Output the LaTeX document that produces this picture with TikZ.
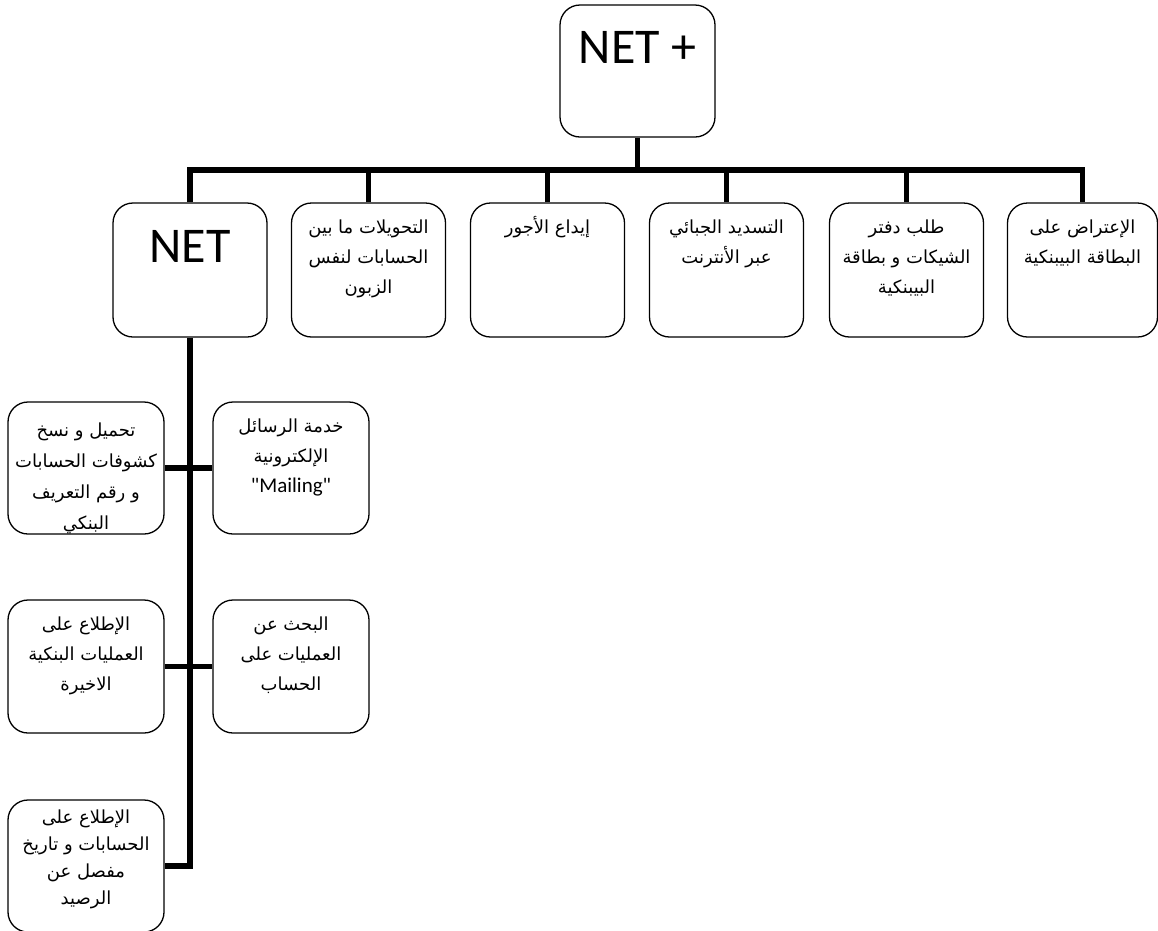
\documentclass[tikz,border=0pt]{standalone}
\usepackage{fontspec}
\newfontfamily\arabicfont[Script=Arabic]{DejaVu Sans}
\newfontfamily\latinfont{Carlito}
\TeXXeTstate=1
% top-aligned Arabic text block: height, line skip, top gap, lines
\newcommand\artextx[4]{\parbox[c][#1][t]{150pt}{\centering\arabicfont\fontsize{18}{#2}\selectfont\vspace*{#3}#4}}
\newcommand\artext[2]{\artextx{#1}{30}{9pt}{#2}}
% top-aligned large Latin title
\newcommand\bigtitle[1]{\parbox[c][132pt][t]{150pt}{\centering\latinfont\fontsize{50}{60}\selectfont\vspace*{26pt}#1}}
\begin{document}
\begin{tikzpicture}[x=1pt,y=-1pt,
  boxnode/.style={draw, line width=1.3pt, rounded corners=20pt, inner sep=0pt, fill=white},
  conn/.style={line width=5.5pt}]
\useasboundingbox (0,0) rectangle (1158,930);
\clip (0,0) rectangle (1158,930);

% top level
\node[boxnode, minimum width=155pt, minimum height=132pt] (top) at (637.5,71) {\bigtitle{NET +}};
\coordinate (hub) at (637.5,170);

% second level row
\node[boxnode, minimum width=154pt, minimum height=134pt] (net) at (190,270) {\bigtitle{NET}};
\node[boxnode, minimum width=154pt, minimum height=134pt] (b2) at (368.5,270)
  {\artext{134pt}{\strut\beginR التحويلات ما بين\endR\\\strut\beginR الحسابات لنفس\endR\\\strut\beginR الزبون\endR}};
\node[boxnode, minimum width=154pt, minimum height=134pt] (b3) at (547.5,270)
  {\artext{134pt}{\strut\beginR إيداع الأجور\endR}};
\node[boxnode, minimum width=154pt, minimum height=134pt] (b4) at (726.5,270)
  {\artext{134pt}{\strut\beginR التسديد الجبائي\endR\\\strut\beginR عبر الأنترنت\endR}};
\node[boxnode, minimum width=154pt, minimum height=134pt] (b5) at (906.5,270)
  {\artext{134pt}{\strut\beginR طلب دفتر\endR\\\strut\beginR الشيكات و بطاقة\endR\\\strut\beginR البيبنكية\endR}};
\node[boxnode, minimum width=149pt, minimum height=134pt] (b6) at (1082.5,270)
  {\artext{134pt}{\strut\beginR الإعتراض على\endR\\\strut\beginR البطاقة البيبنكية\endR}};

% services under NET
\node[boxnode, minimum width=156pt, minimum height=132pt] (l1) at (86,468)
  [path picture={\node[anchor=north, inner sep=0pt] (l1text) at (path picture bounding box.north)
     {\artextx{132pt}{31}{12pt}{\strut\beginR تحميل و نسخ\endR\\\strut\beginR كشوفات الحسابات\endR\\\strut\beginR و رقم التعريف\endR\\\strut\beginR البنكي\endR}};}] {};
\node[boxnode, minimum width=156pt, minimum height=132pt] (r1) at (291,468)
  {\artext{132pt}{\strut\beginR خدمة الرسائل\endR\\\strut\beginR الإلكترونية\endR\\{\latinfont\fontsize{21}{30}\selectfont\strut "Mailing"}}};
\node[boxnode, minimum width=156pt, minimum height=133pt] (l2) at (86,666.5)
  {\artext{133pt}{\strut\beginR الإطلاع على\endR\\\strut\beginR العمليات البنكية\endR\\\strut\beginR الاخيرة\endR}};
\node[boxnode, minimum width=156pt, minimum height=133pt] (r2) at (291,666.5)
  {\artext{133pt}{\strut\beginR البحث عن\endR\\\strut\beginR العمليات على\endR\\\strut\beginR الحساب\endR}};
\node[boxnode, minimum width=156pt, minimum height=132pt] (l3) at (86,866)
  {\artextx{132pt}{27}{5pt}{\strut\beginR الإطلاع على\endR\\\strut\beginR الحسابات و تاريخ\endR\\\strut\beginR مفصل عن\endR\\\strut\beginR الرصيد\endR}};

% connectors
\draw[conn] (top.south) -- (hub);
\draw[conn] (net.north) |- (b6.north |- hub) -- (b6.north);
\foreach \b in {b2,b3,b4,b5} \draw[conn] (\b.north) -- (\b.north |- hub);
\draw[conn] (net.south) |- (l3.east);
\draw[conn] (l1.east) -- (r1.west);
\draw[conn] (l2.east) -- (r2.west);
\end{tikzpicture}
\end{document}
